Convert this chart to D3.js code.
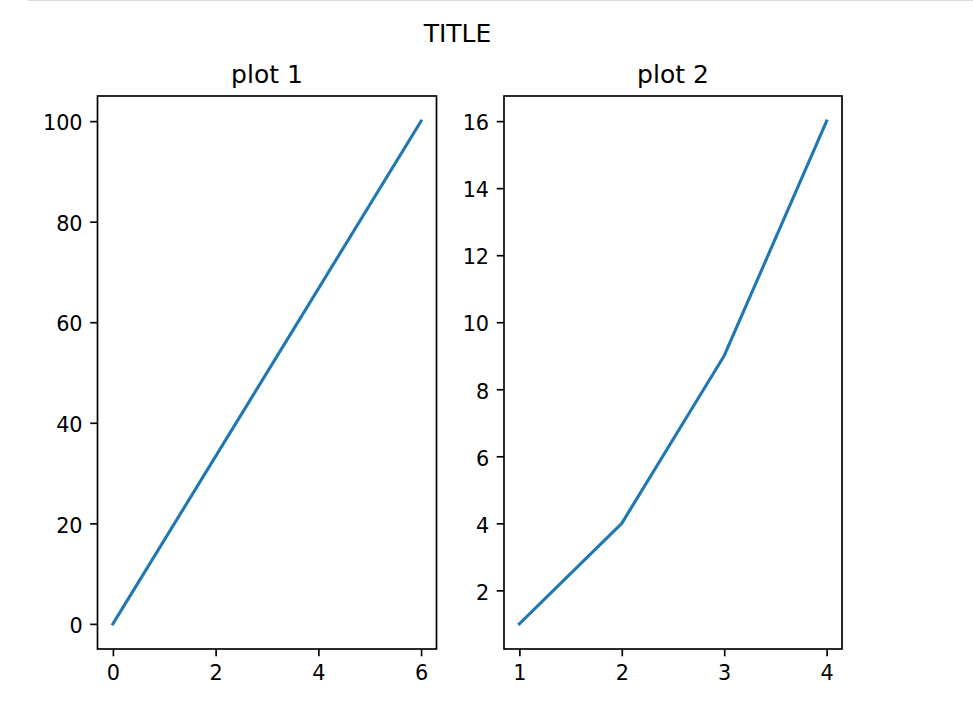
<!DOCTYPE html>
<html>
<head>
<meta charset="utf-8">
<script src="https://cdn.jsdelivr.net/npm/d3@7"></script>
<style>
body { margin: 0; background: #fff; }
text { font-family: "DejaVu Sans", sans-serif; fill: #000; }
</style>
</head>
<body>
<svg width="973" height="709"></svg>
<script>
// data
var x1 = [0, 6];
var y1 = [0, 100];
var x2 = [1, 2, 3, 4];
var y2 = [1, 4, 9, 16];
var x1Ticks = [0, 2, 4, 6];
var y1Ticks = [0, 20, 40, 60, 80, 100];
var x2Ticks = [1, 2, 3, 4];
var y2Ticks = [2, 4, 6, 8, 10, 12, 14, 16];
var titles = ['plot 1', 'plot 2'];
var suptitle = 'TITLE';

var plotTop = 96, plotBottom = 649;
var panels = [
    { left: 97.5, right: 436.5, xs: x1, ys: y1, xt: x1Ticks, yt: y1Ticks, title: titles[0] },
    { left: 504, right: 842, xs: x2, ys: y2, xt: x2Ticks, yt: y2Ticks, title: titles[1] }
];

var svg = d3.select('svg');

// thin notebook separator at the top
svg.append('rect')
    .attr('x', 28).attr('y', 0)
    .attr('width', 945).attr('height', 1)
    .attr('fill', '#dcdcdc');

svg.append('text')
    .attr('x', 457.5).attr('y', 41.5)
    .attr('text-anchor', 'middle')
    .style('font-size', '25px')
    .text(suptitle);

// matplotlib style 5% margins
function padded(vals) {
    var ext = d3.extent(vals);
    var m = (ext[1] - ext[0]) * 0.05;
    return [ext[0] - m, ext[1] + m];
}

panels.forEach(function (p) {
    var x = d3.scaleLinear().domain(padded(p.xs)).range([p.left, p.right]);
    var y = d3.scaleLinear().domain(padded(p.ys)).range([plotBottom, plotTop]);

    var g = svg.append('g');

    var line = d3.line()
        .x(function (d) { return x(d[0]); })
        .y(function (d) { return y(d[1]); });

    g.append('path')
        .datum(d3.zip(p.xs, p.ys))
        .attr('d', line)
        .attr('fill', 'none')
        .attr('stroke', '#1f77b4')
        .attr('stroke-width', 3.1)
        .attr('stroke-linecap', 'square')
        .attr('stroke-linejoin', 'round');

    var xAxis = g.append('g')
        .attr('transform', 'translate(0,' + plotBottom + ')')
        .call(d3.axisBottom(x).tickValues(p.xt).tickSize(7.3).tickPadding(8.5).tickFormat(d3.format('d')));
    var yAxis = g.append('g')
        .attr('transform', 'translate(' + p.left + ',0)')
        .call(d3.axisLeft(y).tickValues(p.yt).tickSize(7.3).tickPadding(7.6).tickFormat(d3.format('d')));

    [xAxis, yAxis].forEach(function (a) {
        a.select('.domain').remove();
        a.selectAll('.tick line').attr('stroke', '#000').attr('stroke-width', 1.67);
        a.selectAll('.tick text')
            .attr('fill', '#000')
            .style('font-family', '"DejaVu Sans", sans-serif')
            .style('font-size', '20.8px');
    });
    yAxis.selectAll('.tick text').attr('dy', '0.42em');

    g.append('rect')
        .attr('x', p.left).attr('y', plotTop)
        .attr('width', p.right - p.left).attr('height', plotBottom - plotTop)
        .attr('fill', 'none')
        .attr('stroke', '#000')
        .attr('stroke-width', 1.67);

    g.append('text')
        .attr('x', (p.left + p.right) / 2).attr('y', 83)
        .attr('text-anchor', 'middle')
        .style('font-size', '25px')
        .text(p.title);
});
</script>
</body>
</html>
